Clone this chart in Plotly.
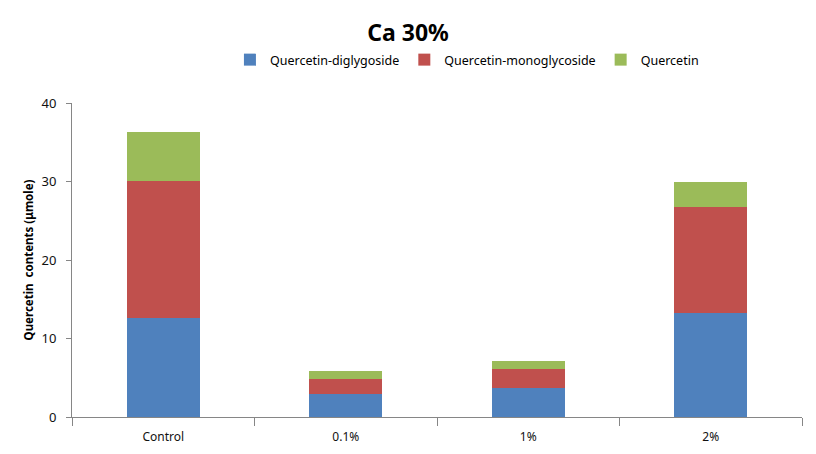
import plotly.graph_objects as go

categories = ["Control", "0.1%", "1%", "2%"]
diglygoside = [12.6, 2.9, 3.7, 13.3]
monoglycoside = [17.5, 1.9, 2.4, 13.5]
quercetin = [6.2, 1.0, 1.0, 3.1]
series_names = ["Quercetin-diglygoside", "Quercetin-monoglycoside", "Quercetin"]
colors = ["#4F81BD", "#C0504D", "#9BBB59"]
y_ticks = [0, 10, 20, 30, 40]

fig = go.Figure()
for name, vals, c in zip(series_names, [diglygoside, monoglycoside, quercetin], colors):
    fig.add_trace(go.Bar(x=categories, y=vals, name=name, marker=dict(color=c, line=dict(width=0))))

fig.update_layout(
    barmode="stack",
    bargap=0.6,
    width=816, height=454,
    margin=dict(l=72, r=14, t=103, b=37),
    paper_bgcolor="white", plot_bgcolor="white",
    font=dict(family="Noto Sans, DejaVu Sans, sans-serif", size=12, color="#000000"),
    title=dict(text="<b>Ca 30%</b>", x=0.5, xanchor="center", y=1 - 33/454, yanchor="middle",
               font=dict(size=23, family="Noto Sans, DejaVu Sans, sans-serif", color="#000")),
    legend=dict(orientation="h", x=0.541, xanchor="center", y=1 + (103-60)/314, yanchor="middle",
                font=dict(size=12.5), itemwidth=30, traceorder="normal", bgcolor="rgba(0,0,0,0)"),
    showlegend=True,
)
fig.update_yaxes(range=[0, 40], tickvals=y_ticks, showgrid=False, zeroline=False,
                 showline=True, linecolor="#868686", linewidth=1,
                 ticks="outside", ticklen=5, tickcolor="#868686", ticklabelstandoff=7,
                 tickfont=dict(size=13, color="#111"), automargin=False,
                 title=dict(text="<b>Quercetin\u00a0\u00a0contents (μmole)</b>", font=dict(size=11.5), standoff=5))
fig.update_xaxes(type="category", showgrid=False, showline=True, linecolor="#868686", linewidth=1,
                 ticks="outside", ticklen=8, tickcolor="#868686", tickson="boundaries",
                 ticklabelstandoff=9, automargin=False,
                 tickfont=dict(size=12, color="#111"))
fig.write_html("out.html")
